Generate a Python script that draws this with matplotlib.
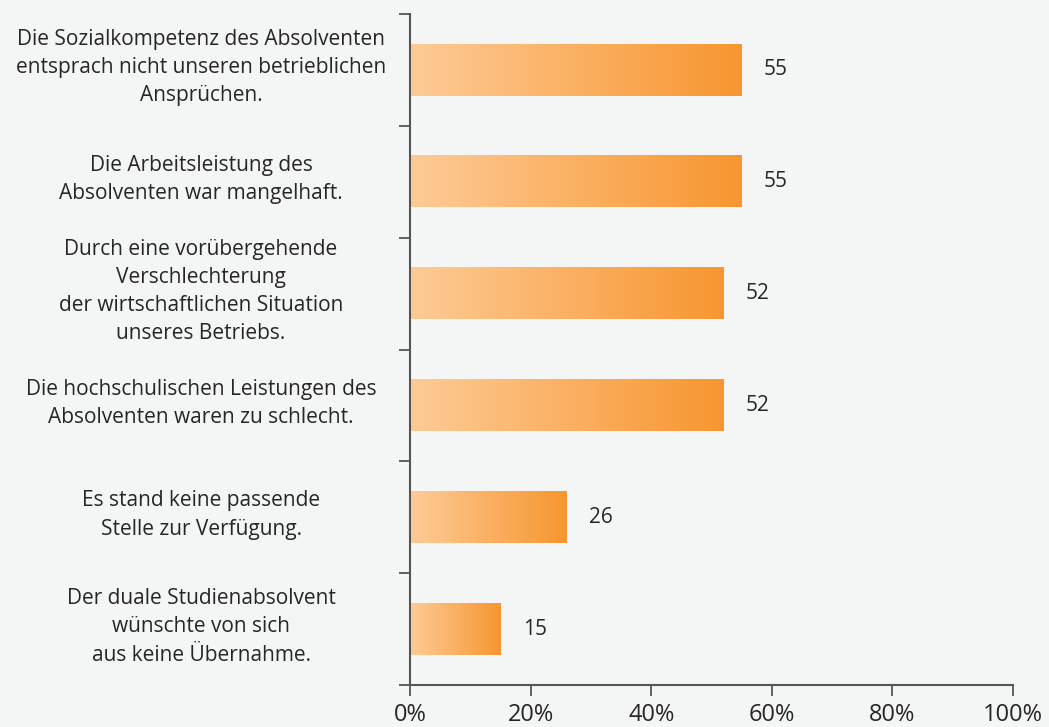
import numpy as np
import matplotlib
matplotlib.use("Agg")
from matplotlib import pyplot as plt
from matplotlib.colors import LinearSegmentedColormap
from matplotlib.transforms import blended_transform_factory

# data
labels = [
    "Die Sozialkompetenz des Absolventen\nentsprach nicht unseren betrieblichen\nAnsprüchen.",
    "Die Arbeitsleistung des\nAbsolventen war mangelhaft.",
    "Durch eine vorübergehende\nVerschlechterung\nder wirtschaftlichen Situation\nunseres Betriebs.",
    "Die hochschulischen Leistungen des\nAbsolventen waren zu schlecht.",
    "Es stand keine passende\nStelle zur Verfügung.",
    "Der duale Studienabsolvent\nwünschte von sich\naus keine Übernahme.",
]
values = [55, 55, 52, 52, 26, 15]
xticks = [0, 20, 40, 60, 80, 100]
xtick_labels = ["0%", "20%", "40%", "60%", "80%", "100%"]

bg = "#f4f6f5"
text_col = "#262626"
axis_col = "#555555"
plt.rcParams['font.family'] = ['Open Sans', 'DejaVu Sans']

cmap = LinearSegmentedColormap.from_list("orange_grad", ["#fecb96", "#f7962f"])
grad = np.linspace(0, 1, 256).reshape(1, -1)

fig = plt.figure(figsize=(10.49, 7.27), dpi=100, facecolor=bg)
ax = fig.add_axes([410/1049, 1 - 685/727, 603/1049, 671/727])
ax.set_facecolor(bg)

bar_h = 0.46
y = np.arange(len(values))
for yi, v in zip(y, values):
    ax.imshow(grad, cmap=cmap, aspect='auto', interpolation='bicubic',
              extent=[0, v, yi + bar_h/2, yi - bar_h/2], zorder=2)
    ax.annotate(str(v), (v, yi), xytext=(16, 0), textcoords='offset points',
                va='center', ha='left', fontsize=15, color=text_col)

ax.set_xlim(0, 100)
ax.set_ylim(len(values) - 0.5, -0.5)

# category labels centred left of the axis
trans = blended_transform_factory(ax.transAxes, ax.transData)
for yi, lab in zip(y, labels):
    ax.text((201 - 410) / 603, yi - 0.02, lab, transform=trans, ha='center', va='center',
            fontsize=15, color=text_col, linespacing=1.45)

ax.set_yticks(np.arange(-0.5, len(values) + 0.5, 1))
ax.set_yticklabels([])
ax.set_xticks(xticks)
ax.set_xticklabels(xtick_labels, fontsize=17, color=text_col)
ax.tick_params(axis='both', direction='out', length=8, width=1.3, color=axis_col)
ax.tick_params(axis='x', pad=5)

for s in ['top', 'right']:
    ax.spines[s].set_visible(False)
for s in ['left', 'bottom']:
    ax.spines[s].set_color(axis_col)
    ax.spines[s].set_linewidth(1.5)

fig.savefig("out.png", dpi=100, facecolor=bg)
